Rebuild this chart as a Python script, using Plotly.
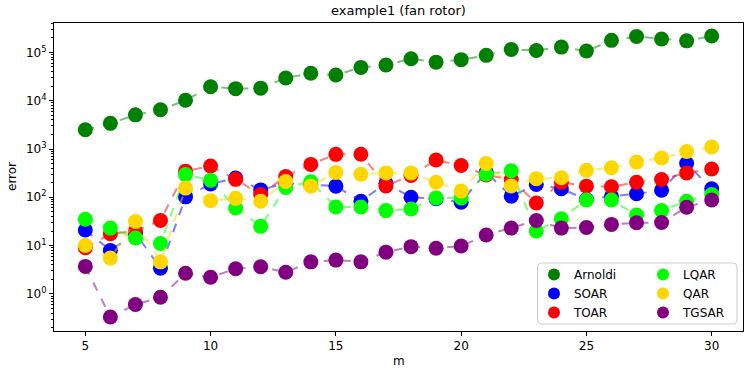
# error vs. m for the fan rotor example, matplotlib-like look
import plotly.graph_objects as go

m = list(range(5, 31))

arnoldi = [2500, 3400, 5100, 6500, 10200, 19500, 17800, 18200, 29500, 37000, 34000, 49000, 55000,
           74000, 63000, 71000, 87000, 115000, 110000, 129000, 107000, 178000, 214000, 190000, 174000, 219000]
soar = [21, 7.9, 18, 3.4, 102, 188, 250, 142, 195, 180, 170, 83, 195,
        100, 93, 79, 330, 105, 185, 150, 90, 105, 118, 140, 500, 150]
toar = [9, 17.5, 20, 33, 348, 443, 235, 114, 270, 480, 775, 780, 172,
        283, 590, 455, 290, 234, 76, 205, 170, 165, 205, 233, 320, 385]
lqar = [35, 23, 14.3, 11, 295, 226, 60, 25, 160, 210, 63, 63, 53,
        57, 97, 97, 300, 355, 20, 36, 88, 88, 43, 53, 83, 114]
qar = [10, 5.5, 31.6, 4.6, 155, 85, 95, 83, 212, 170, 325, 300, 320,
       320, 205, 135, 500, 172, 243, 254, 363, 410, 535, 650, 890, 1100]
tgsar = [3.7, 0.33, 0.6, 0.85, 2.66, 2.2, 3.3, 3.65, 2.8, 4.6, 5.0, 4.6, 7.3,
         9.5, 8.8, 9.8, 16.5, 23, 33, 23, 23.7, 27.4, 29.6, 30, 62, 88]

names = ["Arnoldi", "SOAR", "TOAR", "LQAR", "QAR", "TGSAR"]
series = [arnoldi, soar, toar, lqar, qar, tgsar]
colors = ["#008000", "#0000ff", "#ff0000", "#00ff00", "#ffd700", "#800080"]

ytickvals = [1, 10, 100, 1000, 10000, 100000]
yticktext = ["10<sup>%d</sup>" % i for i in range(6)]

FONT = "DejaVu Sans"
W, H = 747, 374
# plot box in window pixels
PL, PR, PT, PB = 54, 743, 23, 331
L, R, T, B = PL, W - PR, PT, H - PB
pw, ph = PR - PL, PB - PT


def px(x):
    return (x - PL) / pw


def py(y):
    return (PB - y) / ph


fig = go.Figure()
for i, (name, vals, col) in enumerate(zip(names, series, colors)):
    # dashed line then markers, like one matplotlib Line2D
    fig.add_trace(go.Scatter(x=m, y=vals, mode="lines", showlegend=False, opacity=0.5,
                             line=dict(color=col, width=2, dash="dash"), hoverinfo="skip"))
    fig.add_trace(go.Scatter(x=m, y=vals, mode="markers", name=name,
                             marker=dict(color=col, size=15),
                             legend="legend" if i < 3 else "legend2"))

minor_vals = [k * 10 ** e for e in range(-1, 6) for k in range(2, 10)]

# legend frame, rounded
x0, x1 = px(537.5), px(737)
y0, y1 = py(324), py(263)
rx, ry = 4 / pw, 4 / ph
frame = (f"M {x0+rx},{y0} L {x1-rx},{y0} Q {x1},{y0} {x1},{y0+ry} L {x1},{y1-ry} Q {x1},{y1} {x1-rx},{y1} "
         f"L {x0+rx},{y1} Q {x0},{y1} {x0},{y1-ry} L {x0},{y0+ry} Q {x0},{y0} {x0+rx},{y0} Z")

leg = dict(font=dict(family=FONT, size=12, color="black"), bgcolor="rgba(0,0,0,0)",
           borderwidth=0, itemsizing="constant", yanchor="top", xanchor="left", y=py(260))

fig.update_layout(
    width=W, height=H,
    margin=dict(l=L, r=R, t=T, b=B),
    plot_bgcolor="white", paper_bgcolor="white",
    font=dict(family=FONT, size=12, color="black"),
    xaxis=dict(range=[3.75, 31.25], tickvals=[5, 10, 15, 20, 25, 30], ticks="outside",
               ticklen=4, tickwidth=1, tickcolor="black", showline=True, linecolor="black",
               linewidth=1, mirror=True, showgrid=False, zeroline=False,
               tickfont=dict(family=FONT, size=12)),
    yaxis=dict(type="log", range=[-0.77, 5.61], tickvals=ytickvals, ticktext=yticktext,
               ticks="outside", ticklen=4, tickwidth=1, tickcolor="black",
               showline=True, linecolor="black", linewidth=1, mirror=True,
               showgrid=False, zeroline=False, tickfont=dict(family=FONT, size=12),
               minor=dict(tickvals=minor_vals, ticks="outside", ticklen=2, tickwidth=0.8,
                          tickcolor="black", showgrid=False)),
    legend=dict(leg, x=px(534)),
    legend2=dict(leg, x=px(643)),
    shapes=[dict(type="path", path=frame, xref="paper", yref="paper", layer="above",
                 fillcolor="rgba(255,255,255,0.8)", line=dict(color="#cccccc", width=1))],
    annotations=[
        dict(text="example1 (fan rotor)", x=0.5, xref="paper", y=py(10.5), yref="paper",
             yanchor="middle", showarrow=False, font=dict(family=FONT, size=13)),
        dict(text="m", x=0.5, xref="paper", y=py(361), yref="paper", yanchor="middle",
             showarrow=False, font=dict(family=FONT, size=12)),
        dict(text="error", x=px(12), xref="paper", xanchor="center", y=0.5, yref="paper",
             yanchor="middle", textangle=-90, showarrow=False, font=dict(family=FONT, size=12)),
    ],
)

# drop the default 8px body margin so the figure sits at the window's corner
fig.write_html("out.html", config={"displayModeBar": False},
               post_script="document.body.style.margin = '0';")
